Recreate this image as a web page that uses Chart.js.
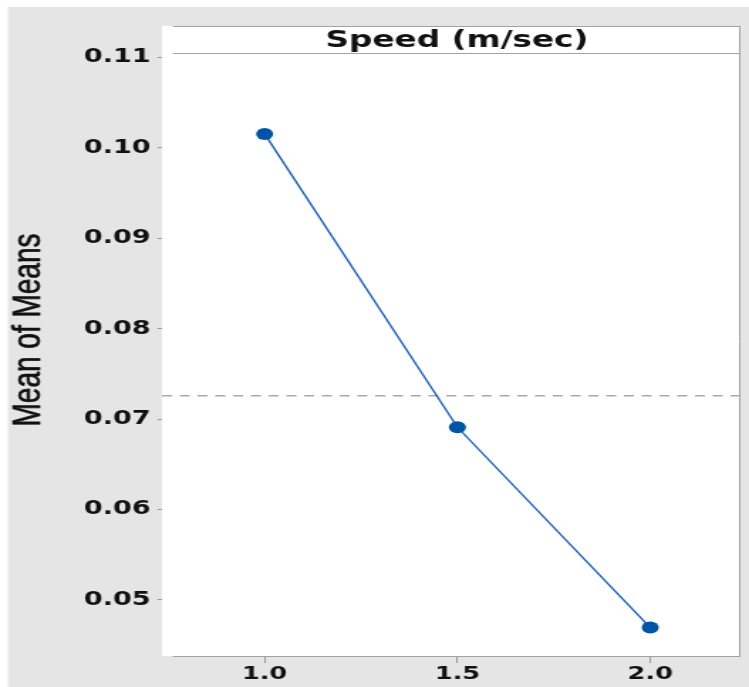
<!DOCTYPE html>
<html>
<head>
<meta charset="utf-8">
<script src="https://cdn.jsdelivr.net/npm/chart.js@4"></script>
<style>
  html, body { margin: 0; padding: 0; background: #fff; overflow: hidden; }
  /* the reference is stretched sideways, so draw narrow and widen the whole thing */
  #wrap { position: absolute; left: 0; top: 0; width: 527px; height: 687px;
          transform: scaleX(1.42125); transform-origin: 0 0; }
</style>
</head>
<body>
<div id="wrap"><canvas id="chart"></canvas></div>
<script>
// ── Data ─────────────────────────────────────────────────────────────────────
const SPEEDS = [1.0, 1.5, 2.0];
const MEANS = [0.10155, 0.0691, 0.04695];
const GRAND_MEAN = 0.0726;
const X_TICKS = [1.0, 1.5, 2.0];
const Y_TICKS = [0.05, 0.06, 0.07, 0.08, 0.09, 0.10, 0.11];
const X_RANGE = [0.734, 2.234];
const Y_RANGE = [0.0438, 0.1105];
const PANEL_TITLE = 'Speed (m/sec)';
const Y_TITLE = 'Mean of Means';

const GRAY_BG = '#e5e5e5';
const FRAME = '#a2a2a2';
const TEXT = '#111';

// ── Panel frame, strip title and axis label ──────────────────────────────────
const panelPlugin = {
  id: 'panel',
  beforeDraw(chart) {
    const { ctx, width, height, chartArea: a } = chart;
    ctx.save();
    ctx.fillStyle = '#fff';
    ctx.fillRect(0, 0, width, height);
    ctx.fillStyle = GRAY_BG;
    ctx.fillRect(5.6, 7, width, height);
    ctx.fillStyle = '#fff';
    ctx.fillRect(a.left, 26, a.right - a.left, a.bottom - 26);
    ctx.restore();
  },
  afterDraw(chart) {
    const { ctx, chartArea: a } = chart;
    ctx.save();
    ctx.strokeStyle = FRAME;
    ctx.lineWidth = 1;
    ctx.beginPath();
    ctx.moveTo(121.5, 26.5); ctx.lineTo(a.right, 26.5);
    ctx.moveTo(121.5, 53.5); ctx.lineTo(a.right, 53.5);
    ctx.moveTo(121.5, a.bottom + 0.5); ctx.lineTo(a.right, a.bottom + 0.5);
    ctx.moveTo(a.right - 0.5, 26); ctx.lineTo(a.right - 0.5, a.bottom + 1);
    ctx.stroke();

    ctx.fillStyle = TEXT;
    ctx.font = 'bold 23px "DejaVu Sans"';
    ctx.textAlign = 'center';
    ctx.textBaseline = 'alphabetic';
    ctx.fillText(PANEL_TITLE, 321.5, 46.5);

    // rotated axis label, lightly stroked so it reads as heavy as the original
    ctx.translate(20, 330);
    ctx.rotate(-Math.PI / 2);
    ctx.font = '28px "Liberation Sans"';
    ctx.textBaseline = 'middle';
    ctx.strokeStyle = TEXT;
    ctx.lineWidth = 0.6;
    ctx.fillText(Y_TITLE, 0, 0);
    ctx.strokeText(Y_TITLE, 0, 0);
    ctx.restore();
  }
};

// ── Chart ────────────────────────────────────────────────────────────────────
const tickFont = size => ({ family: 'DejaVu Sans', size, weight: 'bold' });

new Chart(document.getElementById('chart'), {
  type: 'line',
  data: {
    datasets: [
      {
        data: SPEEDS.map((x, i) => ({ x, y: MEANS[i] })),
        borderColor: '#1a5fb4',
        borderWidth: 1.4,
        pointRadius: 6,
        pointBackgroundColor: '#0054a6',
        pointBorderWidth: 0,
      },
      {
        data: X_RANGE.map(x => ({ x, y: GRAND_MEAN })),
        borderColor: '#a8a8a8',
        borderWidth: 1.5,
        borderDash: [7, 5.5],
        pointRadius: 0,
      }
    ],
  },
  options: {
    responsive: true,
    maintainAspectRatio: false,
    animation: false,
    layout: { padding: { top: 53, right: 3, left: 0, bottom: 0 } },
    plugins: { legend: { display: false }, tooltip: { enabled: false } },
    scales: {
      x: {
        type: 'linear',
        min: X_RANGE[0],
        max: X_RANGE[1],
        afterBuildTicks: s => { s.ticks = X_TICKS.map(value => ({ value })); },
        afterFit: s => { s.height = 31; },
        grid: { drawOnChartArea: false, tickLength: 7, color: '#9a9a9a' },
        border: { display: false },
        ticks: { font: tickFont(18), color: TEXT, padding: 1, maxRotation: 0,
                 callback: v => v.toFixed(1) },
      },
      y: {
        min: Y_RANGE[0],
        max: Y_RANGE[1],
        afterBuildTicks: s => { s.ticks = Y_TICKS.map(value => ({ value })); },
        afterFit: s => { s.width = 114; },
        grid: { drawOnChartArea: false, tickLength: 3, color: '#9a9a9a' },
        border: { display: false },
        ticks: { font: tickFont(19), color: TEXT, padding: 5,
                 callback: v => v.toFixed(2) },
      },
    },
  },
  plugins: [panelPlugin],
});
</script>
</body>
</html>
